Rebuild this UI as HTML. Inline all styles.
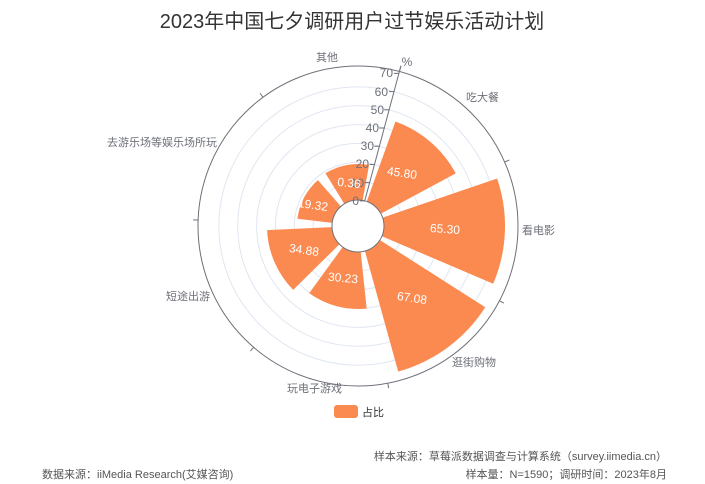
<!DOCTYPE html>
<html><head><meta charset="utf-8"><style>
html,body{margin:0;padding:0;background:#fff;width:705px;height:484px;overflow:hidden}
svg text{font-family:"Liberation Sans","Noto Sans CJK SC",sans-serif}
</style></head><body>
<svg id="s" width="705" height="484" viewBox="0 0 705 484" xmlns="http://www.w3.org/2000/svg">
<rect width="705" height="484" fill="#fff"/>
<text x="352" y="28" text-anchor="middle" font-size="20" fill="#333">2023年中国七夕调研用户过节娱乐活动计划</text>
<g id="grid"></g>
<g id="bars"></g>
<g id="axis"></g>
<g font-size="12" fill="#6e7079" text-anchor="end">
<text x="359" y="205">0</text>
<text x="364" y="187">10</text>
<text x="369" y="168">20</text>
<text x="374" y="150">30</text>
<text x="379" y="132">40</text>
<text x="384" y="114">50</text>
<text x="388" y="96">60</text>
<text x="393" y="77">70</text>
</g>
<text x="407" y="66" font-size="12" fill="#6e7079" text-anchor="middle">%</text>
<g font-size="11" fill="#6e7079">
<text x="466" y="101">吃大餐</text>
<text x="522" y="234">看电影</text>
<text x="452" y="366">逛街购物</text>
<text x="287" y="392">玩电子游戏</text>
<text x="166" y="300">短途出游</text>
<text x="107" y="146">去游乐场等娱乐场所玩</text>
<text x="316" y="61">其他</text>
</g>
<g font-size="12" fill="#fff" text-anchor="middle">
<text x="402" y="177" transform="rotate(8 402 173)">45.80</text>
<text x="445" y="233" transform="rotate(4 445 229)">65.30</text>
<text x="412" y="302" transform="rotate(8 412 298)">67.08</text>
<text x="343" y="282" transform="rotate(5 343 278)">30.23</text>
<text x="304" y="254" transform="rotate(8 304 250)">34.88</text>
<text x="313" y="209" transform="rotate(8 313 205)">19.32</text>
<text x="349" y="187" transform="rotate(6 349 183)">0.36</text>
</g>
<rect x="334" y="405" width="24" height="13" rx="3" fill="#fb8a50"/>
<text x="362" y="416" font-size="11" fill="#333">占比</text>
<text x="667" y="460" font-size="11" fill="#555" text-anchor="end">样本来源：草莓派数据调查与计算系统（survey.iimedia.cn）</text>
<text x="667" y="478" font-size="11" fill="#555" text-anchor="end">样本量：N=1590；调研时间：2023年8月</text>
<text x="42" y="478" font-size="11" fill="#555">数据来源：iiMedia Research(艾媒咨询)</text>
</svg>
<script>
var cx=358,cy=226,r0=26,R=160,ns="http://www.w3.org/2000/svg";
function P(r,a){a=a*Math.PI/180;return [cx+r*Math.sin(a),cy-r*Math.cos(a)];}
function el(t,at,p){var e=document.createElementNS(ns,t);for(var k in at)e.setAttribute(k,at[k]);document.getElementById(p).appendChild(e);return e;}
for(var k=1;k<7;k++)el("circle",{cx:cx,cy:cy,r:r0+k*18.857,fill:"none",stroke:"#e0e6f1","stroke-width":1},"grid");
var radii=[111,147,151,83,91,61,62];
for(var i=0;i<7;i++){var c=15+51.4286*(i+0.5),a1=c-21,a2=c+21,r=radii[i];
var p1=P(r0,a1),p2=P(r,a1),p3=P(r,a2),p4=P(r0,a2);
el("path",{d:"M"+p1+"L"+p2+"A"+r+","+r+" 0 0 1 "+p3+"L"+p4+"A"+r0+","+r0+" 0 0 0 "+p1+"Z",fill:"#fb8a50"},"bars");}
el("circle",{cx:cx,cy:cy,r:R,fill:"none",stroke:"#6e7079","stroke-width":1},"axis");
el("circle",{cx:cx,cy:cy,r:r0,fill:"none",stroke:"#6e7079","stroke-width":1},"axis");
for(var i=0;i<7;i++){var a=15+51.4286*i,q1=P(R,a),q2=P(R+5,a);el("line",{x1:q1[0],y1:q1[1],x2:q2[0],y2:q2[1],stroke:"#6e7079"},"axis");}
var a0=P(r0,15),a7=P(R+6,15);el("line",{x1:a0[0],y1:a0[1],x2:a7[0],y2:a7[1],stroke:"#6e7079","stroke-width":1},"axis");
for(var k=0;k<8;k++){var t=P(r0+k*18.857,15);el("line",{x1:t[0],y1:t[1],x2:t[0]-5,y2:t[1],stroke:"#6e7079"},"axis");}
</script>
</body></html>
